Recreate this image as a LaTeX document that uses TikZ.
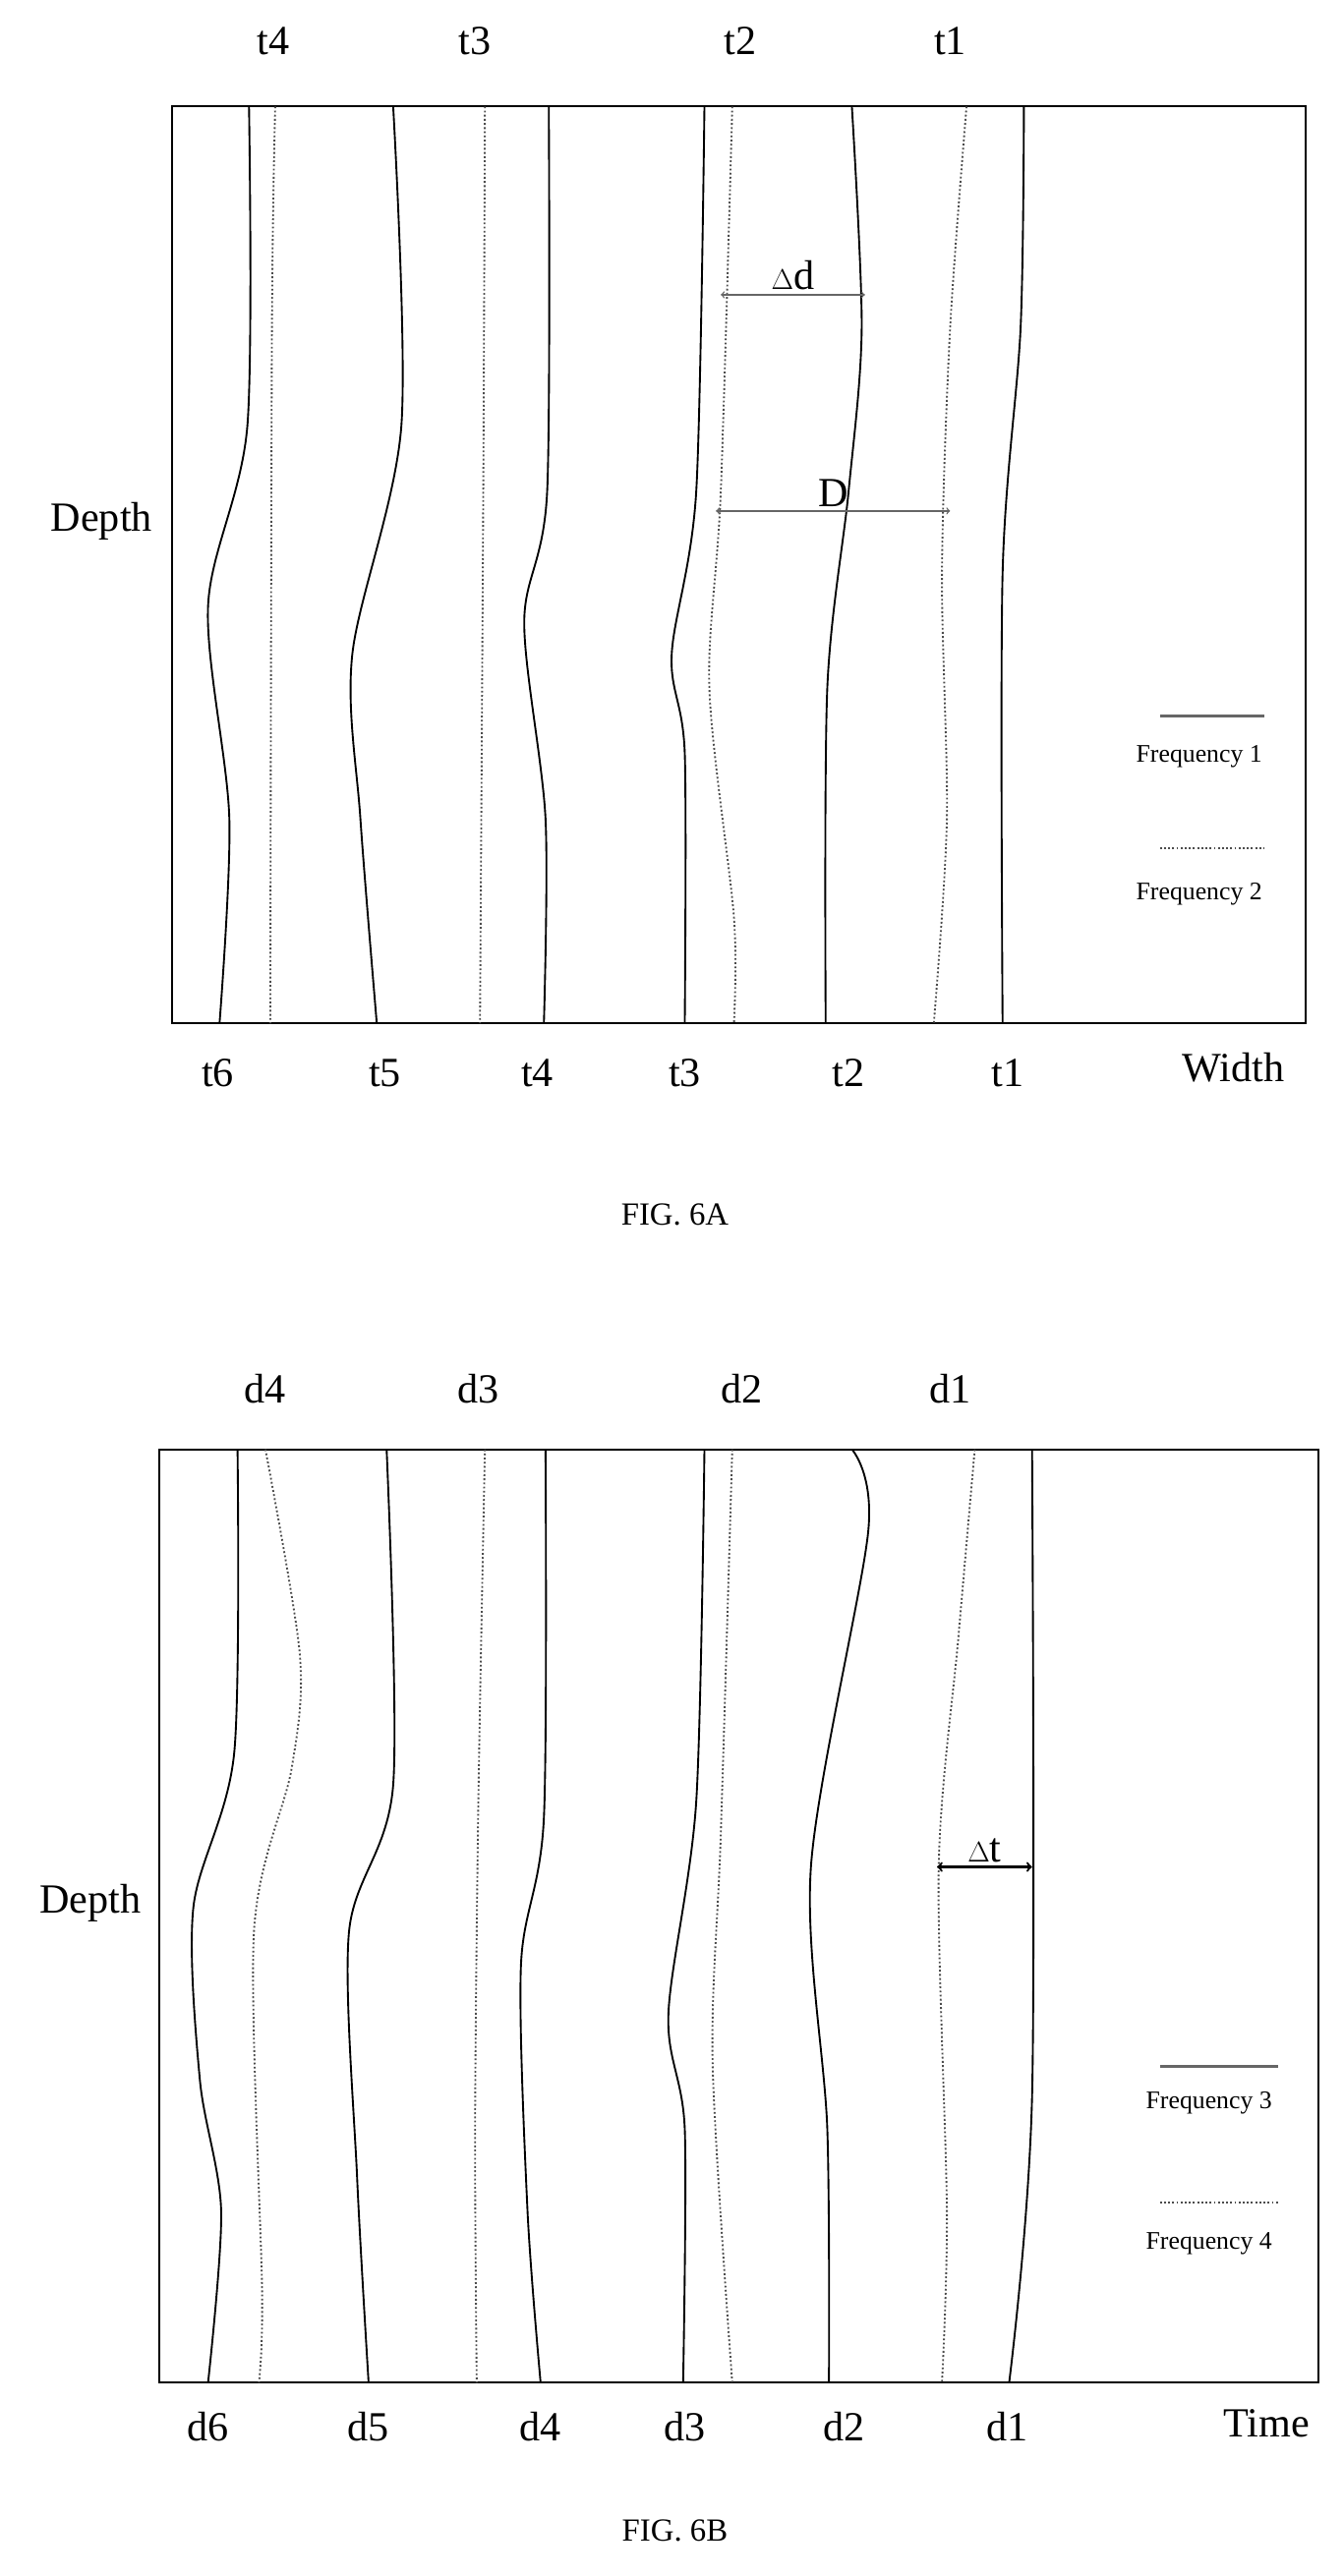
\documentclass[tikz,border=0pt]{standalone}
\usepackage{fontspec}
\setmainfont{Liberation Serif}
\begin{document}
\begin{tikzpicture}[x=0.05cm,y=-0.05cm,
    curve/.style={line width=1.6pt},
    dcurve/.style={line width=1.6pt,dotted,black!70},
    lbl/.style={font=\fontsize{36}{40}\selectfont},
    legend/.style={font=\fontsize{22}{24}\selectfont},
    dim/.style={<->,line width=1.2pt,black!60}]

    \useasboundingbox (0,0) rectangle (820,1573);

    %% FIG. 6A

    % Frame
    \draw[line width=1.6pt] (105,65) rectangle (797,625);

    % Frequency 1 curves
    \draw[curve] plot[smooth] coordinates {(152,65) (151,260) (127,370) (140,500) (134,625)};
    \draw[curve] plot[smooth] coordinates {(240,65) (245,260) (215,400) (220,500) (230,625)};
    \draw[curve] plot[smooth] coordinates {(335,65) (334,300) (320,380) (333,500) (332,625)};
    \draw[curve] plot[smooth] coordinates {(430,65) (425,300) (410,400) (418,460) (418,625)};
    \draw[curve] plot[smooth] coordinates {(520,65) (526,200) (518,300) (505,420) (504,625)};
    \draw[curve] plot[smooth] coordinates {(625,65) (623,200) (612,350) (612,625)};

    % Frequency 2 curves
    \draw[dcurve] plot[smooth] coordinates {(168,65) (166,200) (165,625)};
    \draw[dcurve] plot[smooth] coordinates {(296,65) (295,300) (293,625)};
    \draw[dcurve] plot[smooth] coordinates {(447,65) (440,300) (433,420) (448,560) (448,625)};
    \draw[dcurve] plot[smooth] coordinates {(590,65) (580,200) (575,350) (578,500) (570,625)};

    % Distances
    \coordinate (da) at (440,180);
    \coordinate (db) at (528,180);
    \draw[dim] (da) -- (db) node[midway,above,lbl,black] {$\Delta$d};
    \coordinate (Da) at (437,312);
    \coordinate (Db) at (580,312);
    \draw[dim] (Da) -- (Db) node[midway,above,lbl,black] {D};

    % Legend
    \draw[line width=2.4pt,black!60] (708,437) -- (772,437);
    \node[legend] (f1) at (732,462) {Frequency 1};
    \draw[dcurve] (708,518) -- (772,518);
    \node[legend] (f2) at (732,546) {Frequency 2};

    % Labels
    \foreach \x/\t in {167/t4,290/t3,452/t2,580/t1}
        \node[lbl] at (\x,25) {\t};
    \foreach \x/\t in {133/t6,235/t5,328/t4,418/t3,518/t2,615/t1}
        \node[lbl] at (\x,655) {\t};
    \node[lbl] (wa) at (753,652) {Width};
    \node[lbl] (depa) at (62,318) {Depth};
    \node[font=\fontsize{28}{30}\selectfont] (figa) at (412,742) {FIG. 6A};

    %% FIG. 6B

    % Frame
    \draw[line width=1.6pt] (97,885) rectangle (805,1455);

    % Frequency 3 curves
    \draw[curve] plot[smooth] coordinates {(145,885) (143,1070) (118,1165) (122,1270) (135,1350) (127,1455)};
    \draw[curve] plot[smooth] coordinates {(236,885) (240,1090) (213,1180) (218,1330) (225,1455)};
    \draw[curve] plot[smooth] coordinates {(333,885) (332,1110) (318,1200) (322,1350) (330,1455)};
    \draw[curve] plot[smooth] coordinates {(430,885) (425,1100) (408,1230) (418,1300) (417,1455)};
    \draw[curve] plot[smooth] coordinates {(520,885) (530,935) (495,1140) (505,1300) (506,1455)};
    \draw[curve] plot[smooth] coordinates {(630,885) (630,1280) (616,1455)};

    % Frequency 4 curves
    \draw[dcurve] plot[smooth] coordinates {(162,885) (183,1010) (178,1080) (155,1180) (160,1400) (158,1455)};
    \draw[dcurve] plot[smooth] coordinates {(296,885) (292,1100) (290,1300) (291,1455)};
    \draw[dcurve] plot[smooth] coordinates {(447,885) (440,1120) (435,1260) (447,1455)};
    \draw[dcurve] plot[smooth] coordinates {(595,885) (585,1000) (573,1140) (578,1350) (575,1455)};

    % Time difference
    \coordinate (ta) at (572,1140);
    \coordinate (tb) at (630,1140);
    \draw[<->,line width=2pt] (ta) -- (tb) node[midway,above,lbl] {$\Delta$t};

    % Legend
    \draw[line width=2.4pt,black!60] (708,1262) -- (780,1262);
    \node[legend] (f3) at (738,1284) {Frequency 3};
    \draw[dcurve] (708,1345) -- (780,1345);
    \node[legend] (f4) at (738,1370) {Frequency 4};

    % Labels
    \foreach \x/\t in {162/d4,292/d3,453/d2,580/d1}
        \node[lbl] at (\x,848) {\t};
    \foreach \x/\t in {127/d6,225/d5,330/d4,418/d3,515/d2,615/d1}
        \node[lbl] at (\x,1482) {\t};
    \node[lbl] (tb2) at (773,1480) {Time};
    \node[lbl] (depb) at (55,1162) {Depth};
    \node[font=\fontsize{28}{30}\selectfont] (figb) at (412,1545) {FIG. 6B};

\end{tikzpicture}
\end{document}
